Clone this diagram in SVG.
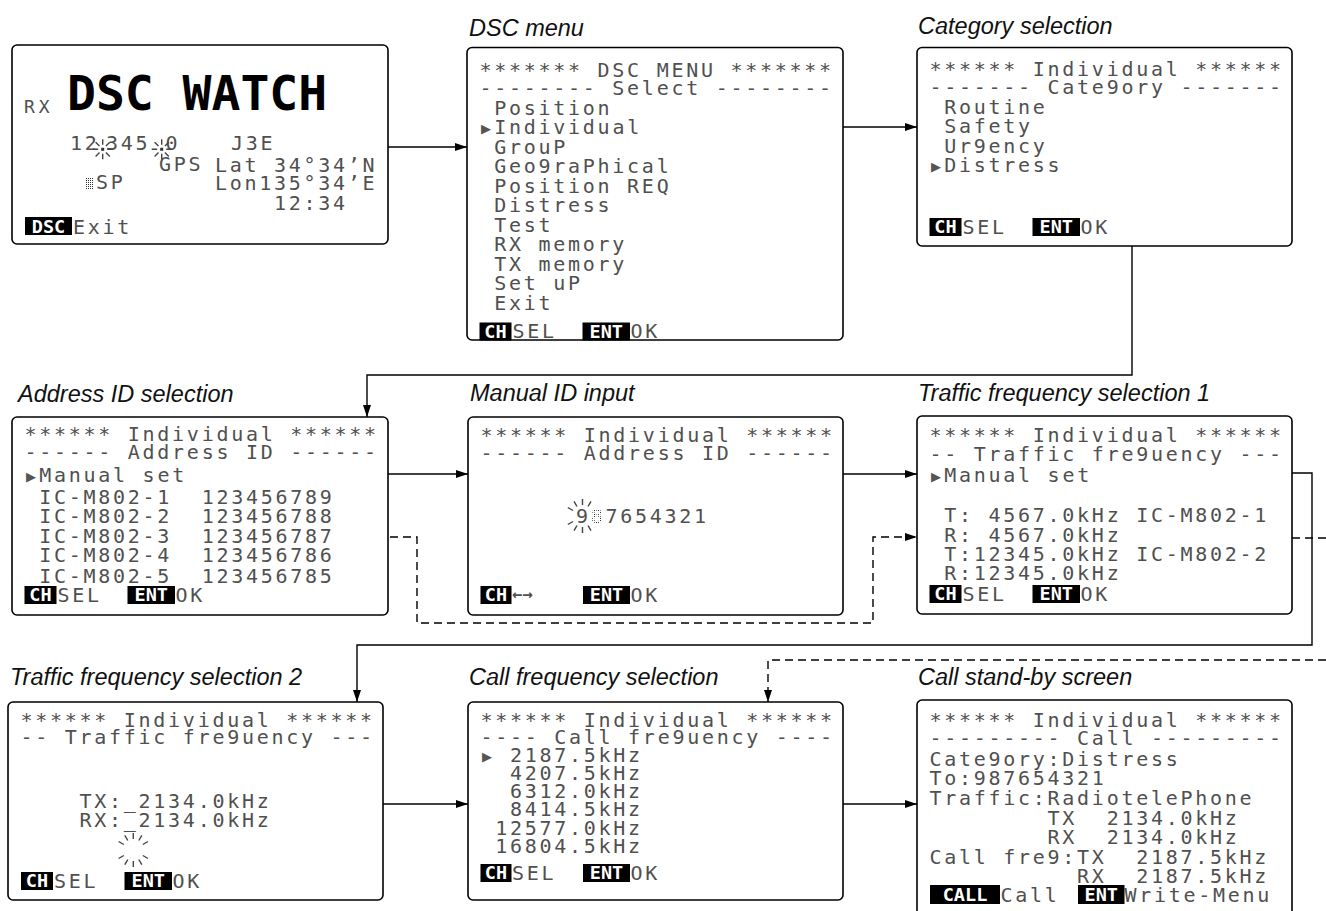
<svg xmlns="http://www.w3.org/2000/svg" xmlns:xlink="http://www.w3.org/1999/xlink" width="1326" height="911" viewBox="0 0 1326 911">
<style>
.scr{fill:#fff;stroke:#000;stroke-width:1.6}
.lcd{font-family:"DejaVu Sans Mono",monospace;font-size:20px;letter-spacing:2.72px;fill:#505050;white-space:pre}
.ptr{font-family:"DejaVu Sans",sans-serif;font-size:13px;letter-spacing:0;fill:#555}
.inv{fill:#000}
.invt{font-family:"DejaVu Sans Mono",monospace;font-size:18.5px;font-weight:bold;fill:#fff;text-anchor:middle;letter-spacing:0}
.lbl{font-family:"Liberation Sans",Arial,sans-serif;font-style:italic;font-size:23.5px;fill:#111}
.big{font-family:"DejaVu Sans Mono",monospace;font-weight:bold;font-size:48px;fill:#000}
.ln{fill:none;stroke:#000;stroke-width:1.4}
.dash{stroke-dasharray:8 5}
.ray{fill:none;stroke:#444;stroke-width:1.4}
</style>
<defs>
<marker id="ah" markerUnits="userSpaceOnUse" markerWidth="12" markerHeight="8" refX="12" refY="4" orient="auto"><path d="M0,0L12,4L0,8z" fill="#000"/></marker>
<pattern id="dots" width="2" height="2" patternUnits="userSpaceOnUse"><rect width="1" height="1" fill="#333"/></pattern>
<path id="burstS" class="ray" d="M4.5,0H10M3.2,3.2L7.1,7.1M0,4.5V10M-3.2,3.2L-7.1,7.1M-4.5,0H-10M-3.2,-3.2L-7.1,-7.1M0,-4.5V-10M3.2,-3.2L7.1,-7.1"/>
<path id="burstL" class="ray" d="M9.5,5.5L14.7,8.5M5.5,9.5L8.5,14.7M0,11V17M-5.5,9.5L-8.5,14.7M-9.5,5.5L-14.7,8.5M-9.5,-5.5L-14.7,-8.5M-5.5,-9.5L-8.5,-14.7M0,-11V-17M5.5,-9.5L8.5,-14.7M9.5,-5.5L14.7,-8.5"/>
<path id="burstM" class="ray" d="M5.5,9.5L8.5,14.7M0,11V17M-5.5,9.5L-8.5,14.7M-9.5,5.5L-14.7,8.5M-9.5,-5.5L-14.7,-8.5M-5.5,-9.5L-8.5,-14.7M0,-11V-17M5.5,-9.5L8.5,-14.7"/>
</defs>
<rect width="1326" height="911" fill="#fff"/>

<g id="labels">
<text class="lbl" x="469" y="35.5">DSC menu</text>
<text class="lbl" x="918" y="33.5">Category selection</text>
<text class="lbl" x="18" y="402">Address ID selection</text>
<text class="lbl" x="470" y="401">Manual ID input</text>
<text class="lbl" x="918" y="401">Traffic frequency selection 1</text>
<text class="lbl" x="10" y="685">Traffic frequency selection 2</text>
<text class="lbl" x="469" y="685">Call frequency selection</text>
<text class="lbl" x="918" y="685">Call stand-by screen</text>
</g>

<g id="connectors" class="ln">
<path d="M388,147H467" marker-end="url(#ah)"/>
<path d="M647,127H917" marker-end="url(#ah)"/>
<path d="M1064,169H1132V375H367V417" marker-end="url(#ah)"/>
<path d="M188,474H468" marker-end="url(#ah)"/>
<path class="dash" d="M338,537H417V623H873V537H917" marker-end="url(#ah)"/>
<path d="M843,474H917" marker-end="url(#ah)"/>
<path d="M1095,473H1312V645H357V702" marker-end="url(#ah)"/>
<path class="dash" d="M1279,538H1326"/>
<path class="dash" d="M1326,660H768V702" marker-end="url(#ah)"/>
<path d="M383,804H468" marker-end="url(#ah)"/>
<path d="M843,804H917" marker-end="url(#ah)"/>
<path d="M332,488H338V584H332"/>
<path d="M1269,498H1279V582H1269"/>
</g>

<g id="dsc-watch">
<rect class="scr" x="12" y="45" width="376" height="199" rx="5"/>
<text class="lcd" x="24" y="113" style="font-size:18px;letter-spacing:4px">RX</text>
<text class="big" x="67" y="110">DSC WATCH</text>
<text class="lcd"><tspan x="70" y="150">12</tspan><tspan x="106" y="150">345</tspan><tspan x="165.5" y="150">0</tspan><tspan x="231" y="150">J3E</tspan><tspan x="159" y="171">GPS</tspan><tspan x="215" y="171.5">Lat 34°34’N</tspan><tspan x="96" y="189">SP</tspan><tspan x="215" y="190">Lon135°34’E</tspan><tspan x="274" y="209.5">12:34</tspan></text>
<use href="#burstS" x="102.7" y="149.3"/>
<use href="#burstS" x="161.7" y="149.3"/>
<rect x="101.2" y="147.8" width="3" height="3" fill="#333"/>
<rect x="160.2" y="147.8" width="3" height="3" fill="#333"/>
<rect x="86" y="177" width="8" height="12" fill="url(#dots)"/>
<rect class="inv" x="25" y="217" width="47" height="18"/>
<text class="invt" x="48.5" y="232.5">DSC</text>
<text class="lcd" x="73" y="234">Exit</text>
</g>

<g id="dsc-menu">
<rect class="scr" x="467" y="47.5" width="376" height="292.5" rx="5"/>
<text class="lcd"><tspan x="479.5" y="77">******* DSC MENU *******</tspan><tspan x="479.5" y="94.5">-------- Select --------</tspan><tspan x="479.5" y="114.5"> Position</tspan><tspan class="ptr" x="481" y="133">▶</tspan><tspan x="494.3" y="134">Individual</tspan><tspan x="479.5" y="153.5"> GrouP</tspan><tspan x="479.5" y="173"> Geo9raPhical</tspan><tspan x="479.5" y="192.5"> Position REQ</tspan><tspan x="479.5" y="212"> Distress</tspan><tspan x="479.5" y="231.5"> Test</tspan><tspan x="479.5" y="251"> RX memory</tspan><tspan x="479.5" y="270.5"> TX memory</tspan><tspan x="479.5" y="290"> Set uP</tspan><tspan x="479.5" y="309.5"> Exit</tspan><tspan x="512.5" y="337.5">SEL</tspan><tspan x="630.5" y="337.5">OK</tspan></text>
<rect class="inv" x="479.5" y="322.5" width="32" height="18"/>
<text class="invt" x="495.5" y="337.5">CH</text>
<rect class="inv" x="582.5" y="322.5" width="47.5" height="18"/>
<text class="invt" x="606.25" y="337.5">ENT</text>
</g>

<g id="category">
<rect class="scr" x="917" y="47.5" width="375" height="198.5" rx="5"/>
<text class="lcd"><tspan x="929.5" y="76">****** Individual ******</tspan><tspan x="929.5" y="94">------- Cate9ory -------</tspan><tspan x="929.5" y="114.3"> Routine</tspan><tspan x="929.5" y="133.4"> Safety</tspan><tspan x="929.5" y="152.5"> Ur9ency</tspan><tspan class="ptr" x="931" y="170.6">▶</tspan><tspan x="944.3" y="171.6">Distress</tspan><tspan x="962.5" y="234">SEL</tspan><tspan x="1080.5" y="234">OK</tspan></text>
<rect class="inv" x="929.5" y="218" width="32" height="18"/>
<text class="invt" x="945.5" y="233">CH</text>
<rect class="inv" x="1032.5" y="218" width="47.5" height="18"/>
<text class="invt" x="1056.25" y="233">ENT</text>
</g>

<g id="address-id">
<rect class="scr" x="12" y="417" width="376" height="198" rx="5"/>
<text class="lcd"><tspan x="24.5" y="441">****** Individual ******</tspan><tspan x="24.5" y="459">------ Address ID ------</tspan><tspan class="ptr" x="26" y="481">▶</tspan><tspan x="39.3" y="482">Manual set</tspan><tspan x="24.5" y="504"> IC-M802-1  123456789</tspan><tspan x="24.5" y="523"> IC-M802-2  123456788</tspan><tspan x="24.5" y="542.5"> IC-M802-3  123456787</tspan><tspan x="24.5" y="562"> IC-M802-4  123456786</tspan><tspan x="24.5" y="583"> IC-M802-5  123456785</tspan><tspan x="57.5" y="602">SEL</tspan><tspan x="175.5" y="602">OK</tspan></text>
<rect class="inv" x="24.5" y="586" width="32" height="18"/>
<text class="invt" x="40.5" y="601">CH</text>
<rect class="inv" x="127.5" y="586" width="47.5" height="18"/>
<text class="invt" x="151.25" y="601">ENT</text>
</g>

<g id="manual-id">
<rect class="scr" x="468" y="417" width="375" height="198" rx="5"/>
<text class="lcd"><tspan x="480.5" y="441.7">****** Individual ******</tspan><tspan x="480.5" y="460">------ Address ID ------</tspan><tspan x="576" y="523.3">9</tspan><tspan fill="url(#dots)">8</tspan><tspan>7654321</tspan><tspan x="630.5" y="602">OK</tspan></text>
<use href="#burstM" x="582.5" y="516"/>
<rect class="inv" x="480.5" y="586" width="31" height="18"/>
<text class="invt" x="496" y="601">CH</text>
<text class="lcd" x="512" y="600" style="font-size:17px;letter-spacing:0;font-weight:bold">←→</text>
<rect class="inv" x="583" y="586" width="47" height="18"/>
<text class="invt" x="606.5" y="601">ENT</text>
</g>

<g id="traffic-1">
<rect class="scr" x="917" y="416" width="375" height="198" rx="5"/>
<text class="lcd"><tspan x="929.5" y="441.7">****** Individual ******</tspan><tspan x="929.5" y="461">-- Traffic fre9uency ---</tspan><tspan class="ptr" x="931" y="480.7">▶</tspan><tspan x="944.3" y="481.7">Manual set</tspan><tspan x="929.5" y="521.7"> T: 4567.0kHz IC-M802-1</tspan><tspan x="929.5" y="541.7"> R: 4567.0kHz</tspan><tspan x="929.5" y="560.5"> T:12345.0kHz IC-M802-2</tspan><tspan x="929.5" y="579.5"> R:12345.0kHz</tspan><tspan x="962.5" y="601">SEL</tspan><tspan x="1080.5" y="601">OK</tspan></text>
<rect class="inv" x="929.5" y="585" width="32" height="18"/>
<text class="invt" x="945.5" y="600">CH</text>
<rect class="inv" x="1032.5" y="585" width="47.5" height="18"/>
<text class="invt" x="1056.25" y="600">ENT</text>
</g>

<g id="traffic-2">
<rect class="scr" x="8" y="702" width="375" height="198" rx="5"/>
<text class="lcd"><tspan x="20.5" y="726.7">****** Individual ******</tspan><tspan x="20.5" y="744">-- Traffic fre9uency ---</tspan><tspan x="20.5" y="808">    TX:_2134.0kHz</tspan><tspan x="20.5" y="827">    RX:_2134.0kHz</tspan><tspan x="54" y="888">SEL</tspan><tspan x="172.5" y="888">OK</tspan></text>
<use href="#burstL" x="133.3" y="850"/>
<rect class="inv" x="21" y="872" width="32" height="18"/>
<text class="invt" x="37" y="887">CH</text>
<rect class="inv" x="124.5" y="872" width="47.5" height="18"/>
<text class="invt" x="148.25" y="887">ENT</text>
</g>

<g id="call-freq">
<rect class="scr" x="468" y="702" width="375" height="198" rx="5"/>
<text class="lcd"><tspan x="480.5" y="726.7">****** Individual ******</tspan><tspan x="480.5" y="744">---- Call fre9uency ----</tspan><tspan class="ptr" x="482" y="760.5">▶</tspan><tspan x="510" y="761.5">2187.5kHz</tspan><tspan x="480.5" y="779.5">  4207.5kHz</tspan><tspan x="480.5" y="797.5">  6312.0kHz</tspan><tspan x="480.5" y="816">  8414.5kHz</tspan><tspan x="480.5" y="834.5"> 12577.0kHz</tspan><tspan x="480.5" y="853"> 16804.5kHz</tspan><tspan x="512" y="880">SEL</tspan><tspan x="630.5" y="880">OK</tspan></text>
<rect class="inv" x="480.5" y="864" width="31" height="18"/>
<text class="invt" x="496" y="879">CH</text>
<rect class="inv" x="583" y="864" width="47" height="18"/>
<text class="invt" x="606.5" y="879">ENT</text>
</g>

<g id="call-standby">
<rect class="scr" x="917" y="700" width="375" height="230" rx="5"/>
<text class="lcd"><tspan x="929.5" y="727">****** Individual ******</tspan><tspan x="929.5" y="745">--------- Call ---------</tspan><tspan x="929.5" y="765.5">Cate9ory:Distress</tspan><tspan x="929.5" y="785">To:987654321</tspan><tspan x="929.5" y="804.5">Traffic:RadiotelePhone</tspan><tspan x="929.5" y="824.5">        TX  2134.0kHz</tspan><tspan x="929.5" y="844">        RX  2134.0kHz</tspan><tspan x="929.5" y="863.5">Call fre9:TX  2187.5kHz</tspan><tspan x="929.5" y="882.5">          RX  2187.5kHz</tspan><tspan x="1000.5" y="902">Call</tspan><tspan x="1124.5" y="902">Write-Menu</tspan></text>
<rect class="inv" x="930" y="885" width="70" height="19"/>
<text class="invt" x="965" y="900.5">CALL</text>
<rect class="inv" x="1078" y="885" width="46.5" height="19"/>
<text class="invt" x="1101.25" y="900.5">ENT</text>
</g>
</svg>
